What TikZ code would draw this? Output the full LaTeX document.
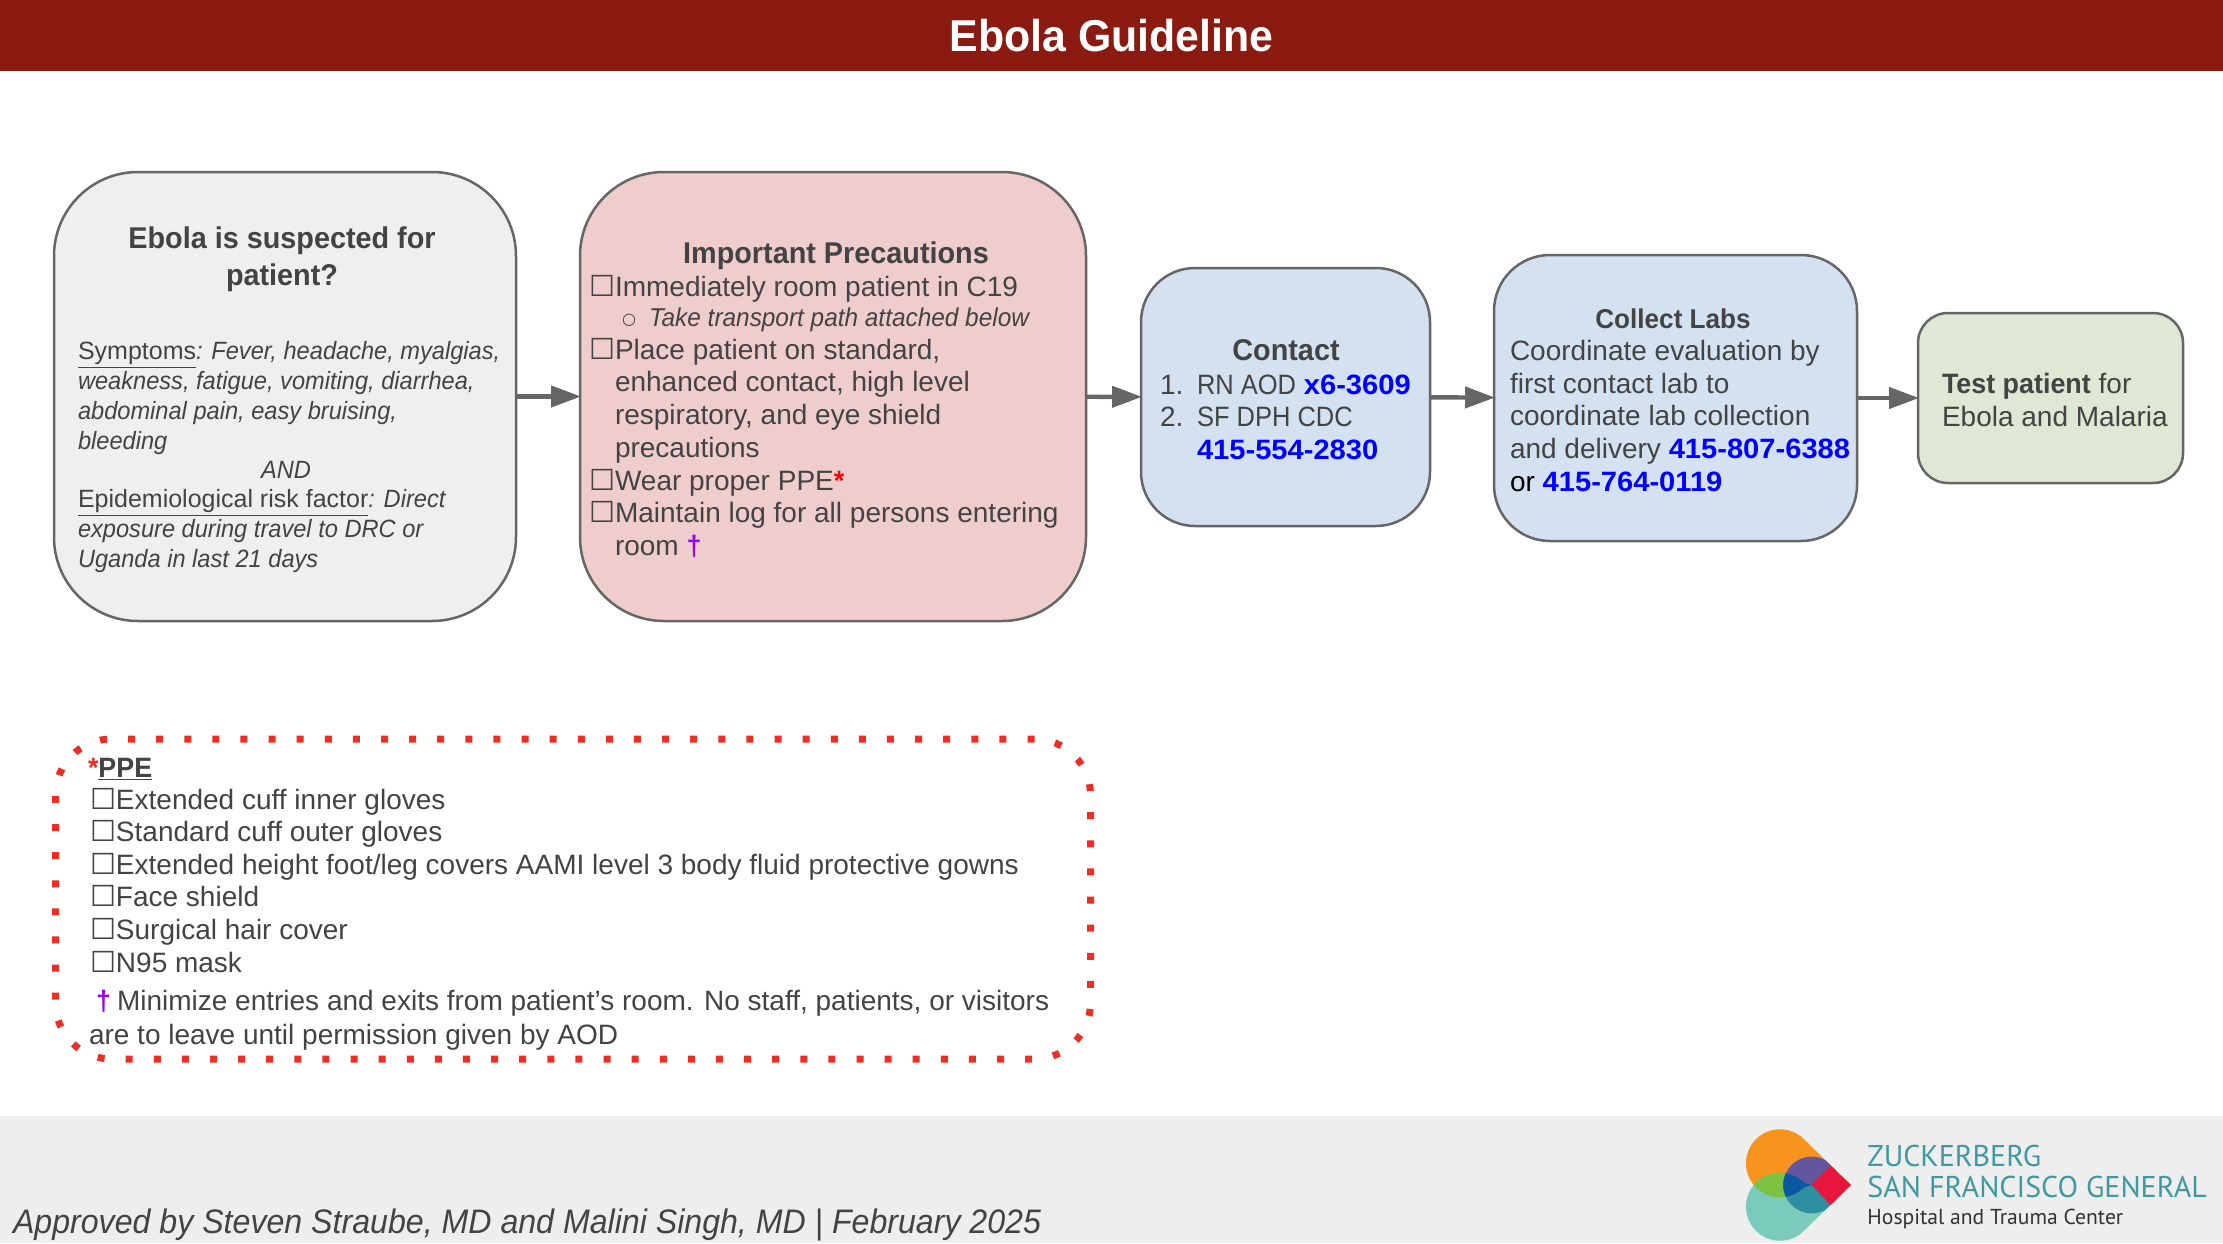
\documentclass[tikz,border=0pt]{standalone}
\usepackage{fontspec}
\usetikzlibrary{arrows.meta}
\setmainfont{Liberation Sans}[ItalicFeatures={FakeStretch=0.945},BoldFeatures={FakeStretch=0.96}]
\newfontfamily\symf{DejaVu Sans}
\newfontfamily\logof{PT Sans}
\newfontfamily\telf{Liberation Sans}[BoldFeatures={FakeStretch=1.04}]
\newfontfamily\capsf{Liberation Sans}[FakeStretch=0.91]
\definecolor{ink}{HTML}{434343}
\definecolor{edge}{HTML}{666666}
\definecolor{barred}{HTML}{8B1A10}
\definecolor{foot}{HTML}{EEEEEE}
\definecolor{greyf}{HTML}{EFEFEF}
\definecolor{pinkf}{HTML}{EFCDCD}
\definecolor{bluef}{HTML}{D4E1F1}
\definecolor{greenf}{HTML}{DEE8D5}
\definecolor{dotred}{HTML}{EE2D24}
\definecolor{tel}{HTML}{0000FF}
\definecolor{dag}{HTML}{9900FF}
\definecolor{logoteal}{HTML}{3E9AA0}
\definecolor{lgorange}{HTML}{F7941D}
\definecolor{lgteal}{HTML}{7ACBBB}
\definecolor{lggreen}{HTML}{7DC242}
\definecolor{lgpurple}{HTML}{62569E}
\definecolor{lgdteal}{HTML}{2E8FA0}
\definecolor{lgblue}{HTML}{0A58A0}
\definecolor{lgred}{HTML}{E8163C}
\newcommand{\cb}{\makebox[13pt][l]{\symf\fontsize{14.5}{13}\selectfont ☐}}
\newcommand{\hang}{\hspace*{13pt}}
\newcommand{\telno}[1]{\textcolor{tel}{\telf\bfseries #1}}
\newcommand{\dagm}{\textcolor{dag}{\textbf{†}}}
\tikzset{
  flowbox/.style={draw=edge,line width=1.25pt,rectangle,inner sep=0pt,outer sep=0pt},
  link/.style={draw=edge,line width=2.2pt,-{Triangle[length=15pt,width=10.5pt]},shorten >=-0.5pt},
  txt/.style={inner sep=0pt,outer sep=0pt,text=ink,align=left,anchor=base west,font=\fontsize{14}{16.3}\selectfont},
  ctr/.style={txt,align=center,anchor=base},
  head/.style={ctr,font=\fontsize{15}{18.5}\selectfont\bfseries},
  small/.style={txt,font=\fontsize{12.5}{15}\selectfont\itshape},
  logotx/.style={inner sep=0pt,anchor=base west,text=logoteal,font=\logof\fontsize{15}{15}\selectfont},
}
\begin{document}
\begin{tikzpicture}[x=0.5pt,y=-0.5pt]
\useasboundingbox (0,0) rectangle (2223,1243);
\fill[white] (0,0) rectangle (2223,1243);
\node[rectangle,fill=barred,inner sep=0pt,minimum width=1111.5pt,minimum height=35.5pt,text=white,font=\fontsize{22.3}{24}\selectfont\bfseries] (title) at (1111.5,35.5) {Ebola Guideline};
\node[rectangle,fill=foot,inner sep=0pt,minimum width=1111.5pt,minimum height=63.5pt] (footer) at (1111.5,1179.5) {};

% flow boxes
\node[flowbox,fill=greyf,rounded corners=42pt,minimum width=231pt,minimum height=224.5pt] (suspect) at (285,396.5) {};
\node[flowbox,fill=pinkf,rounded corners=42pt,minimum width=253pt,minimum height=224.5pt] (prec) at (833,396.5) {};
\node[flowbox,fill=bluef,rounded corners=27pt,minimum width=144.5pt,minimum height=129pt] (contact) at (1285.5,397) {};
\node[flowbox,fill=bluef,rounded corners=28pt,minimum width=181.5pt,minimum height=143pt] (labs) at (1675.5,398) {};
\node[flowbox,fill=greenf,rounded corners=15pt,minimum width=132.5pt,minimum height=85pt] (test) at (2050.5,398) {};
\draw[link] (suspect) -- (prec);
\draw[link] (prec) -- (contact);
\draw[link] (contact) -- (labs);
\draw[link] (labs) -- (test);

% suspect text
\node[head] (sushead) at (282,285) {Ebola is suspected for\\patient?};
\node[small] (sus1) at (78,449) {\underline{\upshape Symptoms}: Fever, headache, myalgias,\\weakness, fatigue, vomiting, diarrhea,\\abdominal pain, easy bruising,\\bleeding};
\node[small,anchor=base] (susand) at (286,478) {AND};
\node[small] (sus2) at (78,567) {\underline{\upshape Epidemiological risk factor}: Direct\\exposure during travel to DRC or\\Uganda in last 21 days};

% precautions text
\node[head] (prechead) at (836,263) {Important Precautions};
\node[txt] (prec1) at (589,296) {\cb Immediately room patient in C19};
\node[small,font=\fontsize{12.9}{15}\selectfont\itshape] (prec1a) at (622,326) {\makebox[13.5pt][l]{\raisebox{0.8pt}{\symf\fontsize{8}{8}\selectfont ○}}Take transport path attached below};
\node[txt] (prec2) at (589,457) {\cb Place patient on standard,\\\hang enhanced contact, high level\\\hang respiratory, and eye shield\\\hang precautions};
\node[txt] (prec3) at (589,490) {\cb Wear proper PPE\textcolor{red}{\textbf{*}}};
\node[txt] (prec4) at (589,555) {\cb Maintain log for all persons entering\\\hang room \dagm};

% contact text
\node[head] (conhead) at (1286,360) {Contact};
\node[txt] (con1) at (1160,394) {\makebox[18.5pt][l]{1.}{\capsf RN AOD} \telno{x6-3609}};
\node[txt] (con2) at (1160,459) {\makebox[18.5pt][l]{2.}{\capsf SF DPH CDC}\\\hspace*{18.5pt}\telno{415-554-2830}};

% labs text
\node[head,font=\fontsize{13.6}{16}\selectfont\bfseries] (labhead) at (1673,328) {Collect Labs};
\node[txt] (lab1) at (1510,491) {Coordinate evaluation by\\first contact lab to\\coordinate lab collection\\and delivery \telno{415-807-6388}\\\textcolor{black}{or} \telno{415-764-0119}};

% test text
\node[txt] (test1) at (1942,426) {\textbf{Test patient} for\\Ebola and Malaria};

% PPE box
\node[rectangle,inner sep=0pt,outer sep=0pt,draw=dotred,line width=3.5pt,dash pattern=on 3.5pt off 10.554pt,rounded corners=28pt,minimum width=517.5pt,minimum height=160pt] (ppe) at (573,899) {};
\node[txt] (ppehead) at (88,777) {\textcolor{dotred}{\textbf{*}}\textbf{\underline{PPE}}};
\node[txt] (ppelist) at (90,972) {\cb Extended cuff inner gloves\\\cb Standard cuff outer gloves\\\cb Extended height foot/leg covers AAMI level 3 body fluid protective gowns\\\cb Face shield\\\cb Surgical hair cover\\\cb N95 mask};
\node[txt] (ppedag) at (96,1010) {\makebox[10.5pt][l]{\dagm}Minimize entries and exits from patient’s room. No staff, patients, or visitors};
\node[txt] (ppedag2) at (89,1044) {are to leave until permission given by AOD};

% footer
\node[txt,font=\fontsize{17}{20}\selectfont\itshape] (approved) at (13,1233) {Approved by Steven Straube, MD and Malini Singh, MD | February 2025};

% logo
\begin{scope}[xshift=850pt,yshift=-550pt,x=0.16667pt,y=-0.16667pt]
\def\orangep{(312,118) -- (453,255) -- (335,255) -- (312,262) arc[start angle=-45,end angle=-315,radius=17pt]}
\def\tealp{(312,392) -- (453,255) -- (335,255) -- (312,248) arc[start angle=45,end angle=315,radius=17pt]}
\fill[lgorange] \orangep -- cycle;
\fill[lgteal] \tealp -- cycle;
\begin{scope}
\clip \orangep -- cycle;
\fill[lggreen] \tealp -- cycle;
\end{scope}
\begin{scope}
\clip (335,255) circle[radius=14.2pt];
\fill[lgpurple] \orangep -- cycle;
\fill[lgdteal] \tealp -- cycle;
\begin{scope}
\clip \orangep -- cycle;
\fill[lgblue] \tealp -- cycle;
\end{scope}
\end{scope}
\fill[lgred] (335,255) -- (392,197) -- (453,255) -- (392,315) -- cycle;
\end{scope}
\node[logotx] (logo1) at (1867,1166) {ZUCKERBERG};
\node[logotx] (logo2) at (1867,1197) {SAN FRANCISCO GENERAL};
\node[logotx,text=black!80,font=\logof\fontsize{10.8}{12}\selectfont] (logo3) at (1867,1224) {Hospital and Trauma Center};
\end{tikzpicture}
\end{document}
